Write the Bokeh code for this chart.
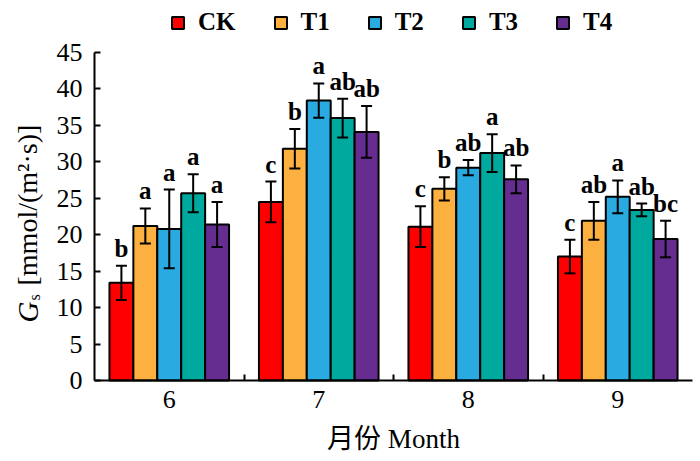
import math
from bokeh.plotting import figure
from bokeh.models import (ColumnDataSource, Range1d, FixedTicker, SingleIntervalTicker,
                          Whisker, TeeHead, LabelSet, Label, Legend, LegendItem)
from bokeh.embed import file_html
from bokeh.resources import INLINE

# ---- data ----
months = ["6", "7", "8", "9"]
groups = ["CK", "T1", "T2", "T3", "T4"]
colors = ["#FF0000", "#FBB040", "#29ABE2", "#00A99D", "#662D91"]

ck = [13.4, 24.5, 21.1, 17.0]
t1 = [21.2, 31.8, 26.3, 21.9]
t2 = [20.8, 38.4, 29.2, 25.2]
t3 = [25.7, 36.0, 31.2, 23.4]
t4 = [21.4, 34.1, 27.6, 19.4]

ck_err = [2.35, 2.8, 2.8, 2.3]
t1_err = [2.4, 2.7, 1.6, 2.6]
t2_err = [5.4, 2.35, 1.05, 2.25]
t3_err = [2.6, 2.65, 2.6, 0.87]
t4_err = [3.1, 3.55, 1.9, 2.5]

ck_sig = ["b", "c", "c", "c"]
t1_sig = ["a", "b", "b", "ab"]
t2_sig = ["a", "a", "ab", "a"]
t3_sig = ["a", "ab", "a", "ab"]
t4_sig = ["a", "ab", "ab", "bc"]

x_title = "月份 Month"
y_title_main = "G"
y_title_sub = "s"
y_title_unit = "[mmol/(m²·s)]"

values = [ck, t1, t2, t3, t4]
errors = [ck_err, t1_err, t2_err, t3_err, t4_err]
sigs = [ck_sig, t1_sig, t2_sig, t3_sig, t4_sig]

SERIF = "Liberation Serif"
BAR_W = 0.16
Y_MAX = 45

# ---- layout (pixels) ----
W, H = 696, 458
AX_LEFT, AX_RIGHT = 94, 692      # x-axis pixel span (0.5 .. 4.5)
AX_TOP, AX_BOTTOM = 52, 380      # y-axis pixel span (45 .. 0)
ppx = (AX_RIGHT - AX_LEFT) / 4.0
ppy = (AX_BOTTOM - AX_TOP) / Y_MAX
x_range = Range1d(0.5 - AX_LEFT / ppx, 4.5 + (W - AX_RIGHT) / ppx)
y_range = Range1d(-(H - AX_BOTTOM) / ppy, Y_MAX + AX_TOP / ppy)

p = figure(width=W, height=H, x_range=x_range, y_range=y_range,
           output_backend="svg", toolbar_location=None,
           min_border_left=0, min_border_right=0,
           min_border_top=0, min_border_bottom=0)
p.xgrid.visible = False
p.ygrid.visible = False
p.outline_line_color = None
p.background_fill_color = "white"
p.border_fill_color = "white"

items = []
for j, g in enumerate(groups):
    xs = [i + 1 + (j - 2) * BAR_W for i in range(len(months))]
    vals = values[j]
    errs = errors[j]
    src = ColumnDataSource(dict(
        x=xs, top=vals,
        upper=[v + e for v, e in zip(vals, errs)],
        lower=[v - e for v, e in zip(vals, errs)],
        sig=sigs[j]))
    r = p.vbar(x="x", top="top", width=BAR_W, bottom=0, source=src,
               fill_color=colors[j], line_color="black", line_width=2)
    items.append(LegendItem(label=g, renderers=[r]))
    wh = Whisker(source=src, base="x", upper="upper", lower="lower",
                 line_color="black", line_width=2, level="annotation",
                 upper_head=TeeHead(size=11, line_width=2, line_color="black"),
                 lower_head=TeeHead(size=11, line_width=2, line_color="black"))
    p.add_layout(wh)
    ls = LabelSet(source=src, x="x", y="upper", text="sig", y_offset=9,
                  text_align="center", text_baseline="alphabetic",
                  text_font=SERIF, text_font_size="25px", text_font_style="bold",
                  text_color="black")
    p.add_layout(ls)

# axes, fixed at the data origin so the whole canvas is the drawing frame
p.xaxis.fixed_location = 0
p.xaxis.bounds = (0.5, 4.5)
p.xaxis.ticker = FixedTicker(ticks=[1, 2, 3, 4], minor_ticks=[1.5, 2.5, 3.5])
p.xaxis.major_label_overrides = {i + 1: m for i, m in enumerate(months)}
p.xaxis.major_tick_in = 0
p.xaxis.major_tick_out = 0
p.xaxis.minor_tick_in = 6
p.xaxis.minor_tick_out = 0
p.xaxis.minor_tick_line_width = 2
p.xaxis.minor_tick_line_color = "black"
p.xaxis.major_label_standoff = 10

p.yaxis.fixed_location = 0.5
p.yaxis.bounds = (0, Y_MAX)
p.yaxis.ticker = SingleIntervalTicker(interval=5, num_minor_ticks=0)
p.yaxis.major_tick_in = 6
p.yaxis.major_tick_out = 0
p.yaxis.minor_tick_in = 0
p.yaxis.minor_tick_out = 0
p.yaxis.major_label_standoff = 12

for ax in (p.xaxis, p.yaxis):
    ax.axis_line_width = 2
    ax.axis_line_color = "black"
    ax.major_tick_line_width = 2
    ax.major_tick_line_color = "black"
    ax.major_label_text_font = SERIF
    ax.major_label_text_font_size = "26px"
    ax.major_label_text_color = "black"

# axis titles (screen units = pixels from the frame's bottom-left)
p.add_layout(Label(x=(AX_LEFT + AX_RIGHT) / 2, y=H - 438, x_units="screen", y_units="screen",
                   text=x_title, text_align="center", text_baseline="middle",
                   text_font="Liberation Serif, Noto Sans CJK SC", text_font_size="27px",
                   text_color="black"))
p.add_layout(Label(x=27, y=H - 322, x_units="screen", y_units="screen",
                   text=y_title_main, angle=math.pi / 2, text_align="left",
                   text_baseline="middle", text_font=SERIF, text_font_size="29px",
                   text_font_style="italic", text_color="black"))
p.add_layout(Label(x=34, y=H - 300, x_units="screen", y_units="screen",
                   text=y_title_sub, angle=math.pi / 2, text_align="left",
                   text_baseline="middle", text_font=SERIF, text_font_size="16px",
                   text_color="black"))
p.add_layout(Label(x=27, y=H - 285, x_units="screen", y_units="screen",
                   text=y_title_unit, angle=math.pi / 2, text_align="left",
                   text_baseline="middle", text_font=SERIF, text_font_size="28px",
                   text_color="black"))

legend = Legend(items=items, location=(170, H - 36), orientation="horizontal",
                padding=0, margin=0, spacing=37, label_standoff=13,
                glyph_width=15, glyph_height=15,
                label_text_font=SERIF, label_text_font_size="25px",
                label_text_font_style="bold", label_text_color="black",
                border_line_color=None, background_fill_alpha=0)
p.add_layout(legend)

open("out.html", "w").write(file_html(p, INLINE))
